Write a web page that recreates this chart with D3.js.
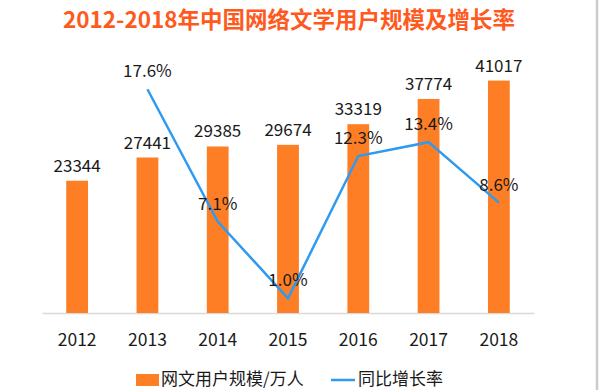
<!DOCTYPE html>
<html>
<head>
<meta charset="utf-8">
<script src="https://cdnjs.cloudflare.com/ajax/libs/d3/7.8.5/d3.min.js"></script>
<style>
body { margin: 0; background: #fff; }
text { font-family: "Noto Sans CJK SC", "Noto Sans", sans-serif; }
</style>
</head>
<body>
<svg id="chart"></svg>
<script>
var width = 600;
var height = 390;

// data
var years = ["2012", "2013", "2014", "2015", "2016", "2017", "2018"];
var users = [23344, 27441, 29385, 29674, 33319, 37774, 41017];
var growthYears = ["2013", "2014", "2015", "2016", "2017", "2018"];
var growth = [17.6, 7.1, 1.0, 12.3, 13.4, 8.6];
var legendNames = ["网文用户规模/万人", "同比增长率"];
var title = "2012-2018年中国网络文学用户规模及增长率";

var barColor = "#fd7e24";
var lineColor = "#2f9af0";

var svg = d3.select("#chart")
	.attr("width", width)
	.attr("height", height)
	.style("background", "#fff");

// right border line
svg.append("line")
	.attr("x1", 597).attr("x2", 597)
	.attr("y1", 0).attr("y2", height)
	.style("stroke", "#cccccc")
	.style("stroke-width", 2.5);

svg.append("text")
	.attr("x", 289).attr("y", 28)
	.attr("text-anchor", "middle")
	.style("font-size", "22.5px")
	.style("font-weight", "bold")
	.style("fill", "#ff5a1e")
	.text(title);

var x = d3.scaleBand()
	.domain(years)
	.range([42, 534])
	.paddingInner(0.69)
	.paddingOuter(0.345);

var yBar = d3.scaleLinear()
	.domain([0, 45000])
	.range([313, 58]);

var yLine = d3.scaleLinear()
	.domain([0, 20])
	.range([311, 59]);

// x axis
var xg = svg.append("g")
	.attr("transform", "translate(0,313)")
	.call(d3.axisBottom(x).tickSize(0).tickPadding(21));
xg.select(".domain").style("stroke", "#d9d9d9").style("stroke-width", 1.5);
xg.selectAll("text")
	.style("font-family", "'Noto Sans CJK SC', sans-serif")
	.style("font-size", "17.5px")
	.style("fill", "#1a1a1a");

// bars
svg.selectAll("rect.bar")
	.data(users)
	.enter().append("rect")
	.attr("class", "bar")
	.attr("x", (d, i) => x(years[i]))
	.attr("width", x.bandwidth())
	.attr("y", d => yBar(d))
	.attr("height", d => 313 - yBar(d))
	.style("fill", barColor);

svg.selectAll("text.barlabel")
	.data(users)
	.enter().append("text")
	.attr("class", "barlabel")
	.attr("x", (d, i) => x(years[i]) + x.bandwidth() / 2)
	.attr("y", d => yBar(d) - 9)
	.attr("text-anchor", "middle")
	.style("font-size", "17px")
	.style("fill", "#1a1a1a")
	.text(d => d);

// growth line
var line = d3.line()
	.x((d, i) => x(growthYears[i]) + x.bandwidth() / 2)
	.y(d => yLine(d));

svg.append("path")
	.datum(growth)
	.attr("d", line)
	.style("fill", "none")
	.style("stroke", lineColor)
	.style("stroke-width", 2.5);

svg.selectAll("text.linelabel")
	.data(growth)
	.enter().append("text")
	.attr("class", "linelabel")
	.attr("x", (d, i) => x(growthYears[i]) + x.bandwidth() / 2)
	.attr("y", d => yLine(d) - 12)
	.attr("text-anchor", "middle")
	.style("font-size", "17px")
	.style("fill", "#1a1a1a")
	.text(d => d.toFixed(1) + "%");

// legend
var lg = svg.append("g");
lg.append("rect")
	.attr("x", 136).attr("y", 374)
	.attr("width", 23).attr("height", 12)
	.style("fill", barColor);
lg.append("text")
	.attr("x", 161).attr("y", 385)
	.style("font-size", "17px")
	.style("fill", "#1a1a1a")
	.text(legendNames[0]);
lg.append("line")
	.attr("x1", 331).attr("x2", 355)
	.attr("y1", 380).attr("y2", 380)
	.style("stroke", lineColor)
	.style("stroke-width", 2.5);
lg.append("text")
	.attr("x", 358).attr("y", 385)
	.style("font-size", "17px")
	.style("fill", "#1a1a1a")
	.text(legendNames[1]);
</script>
</body>
</html>
